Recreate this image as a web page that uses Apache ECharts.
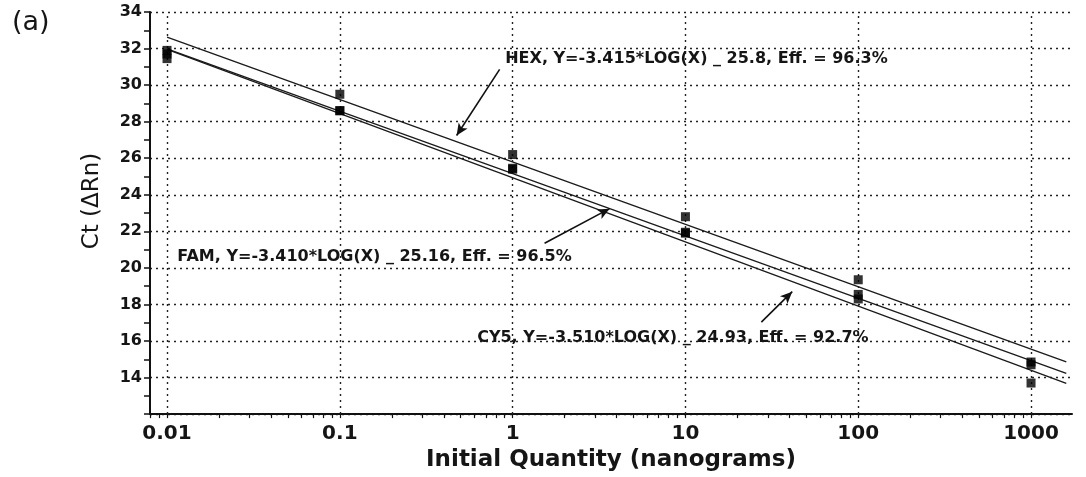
<!DOCTYPE html>
<html>
<head>
<meta charset="utf-8">
<script src="https://cdn.jsdelivr.net/npm/echarts@6/dist/echarts.min.js"></script>
<style>
  html, body { margin: 0; padding: 0; background: #fff; }
  #chart { width: 1086px; height: 477px; }
</style>
</head>
<body>
<div id="chart"></div>
<script>
// Standard curves: Ct versus initial template quantity for three dyes
const dyes = ['HEX', 'FAM', 'CY5'];
const quantities = [0.01, 0.1, 1, 10, 100, 1000];

// Measured Ct replicates per dye, one value per quantity
const hexCt = [31.9, 29.5, 26.2, 22.8, 19.35, 14.85];
const famCt = [31.7, 28.6, 25.45, 21.95, 18.55, 14.7];
const cy5Ct = [31.45, 28.6, 25.4, 21.9, 18.3, 13.7];

// Fitted regression lines as printed in the annotations (slope, intercept)
const fitSlopes = [-3.415, -3.410, -3.510];
const fitIntercepts = [25.8, 25.16, 24.93];
const fitRange = [0.01, 1600];

const annotationTexts = [
  'HEX, Y=-3.415*LOG(X) _ 25.8, Eff. = 96.3%',
  'FAM, Y=-3.410*LOG(X) _ 25.16, Eff. = 96.5%',
  'CY5, Y=-3.510*LOG(X) _ 24.93, Eff. = 92.7%'
];

const xTickLabels = [0.01, 0.1, 1, 10, 100, 1000];
const yTickLabels = [14, 16, 18, 20, 22, 24, 26, 28, 30, 32, 34];

// Annotation placement (data coordinates) for the labels and their arrows
const labelAnchors = [[0.9, 31.41], [0.0114, 20.59], [0.619, 16.16]];
const arrowTails = [[0.841, 30.86], [1.53, 21.35], [27.5, 17.03]];
const arrowHeads = [[0.474, 27.24], [3.64, 23.24], [41.5, 18.7]];

const FONT = 'DejaVu Sans';
const INK = '#151515';
const dotted = { color: '#222', width: 1.4, type: [2, 4] };

// Log-axis tick positions: each decade plus its 2..9 multiples
const minorTickValues = [];
for (let e = -3; e <= 3; e++) {
  for (let m = 1; m <= 9; m++) {
    const v = +(m * Math.pow(10, e)).toPrecision(6);
    if (v >= 0.008 && v <= 1720) minorTickValues.push(v);
  }
}

const ctSets = [hexCt, famCt, cy5Ct];

const pointSeries = dyes.map((dye, i) => ({
  name: dye + ' points',
  type: 'scatter',
  symbol: 'rect',
  symbolSize: 9,
  itemStyle: { color: '#000' },
  z: 5,
  data: quantities.map((q, j) => [q, ctSets[i][j]])
}));

const fitSeries = dyes.map((dye, i) => ({
  name: dye + ' fit',
  type: 'line',
  showSymbol: false,
  symbol: 'none',
  lineStyle: { color: '#1a1a1a', width: 1.3 },
  z: 4,
  data: fitRange.map(x => [x, fitSlopes[i] * Math.log10(x) + fitIntercepts[i]])
}));

// Vertical dotted grid lines at each decade
const decorSeries = {
  name: 'decor',
  type: 'line',
  data: [],
  silent: true,
  markLine: {
    silent: true,
    symbol: 'none',
    label: { show: false },
    lineStyle: dotted,
    data: xTickLabels.map(v => ({ xAxis: v }))
  }
};

// Arrows and equation labels
const arrowSeries = {
  name: 'arrows',
  type: 'line',
  data: [],
  silent: true,
  markLine: {
    silent: true,
    symbol: ['none', 'arrow'],
    symbolSize: [8, 12],
    label: { show: false },
    lineStyle: { color: '#111', width: 1.6, type: 'solid' },
    data: arrowTails.map((t, i) => [{ coord: t }, { coord: arrowHeads[i] }])
  },
  markPoint: {
    silent: true,
    symbol: 'circle',
    symbolSize: 1,
    itemStyle: { color: 'rgba(0,0,0,0)' },
    label: {
      show: true,
      position: 'right',
      distance: 0,
      color: INK,
      fontFamily: FONT,
      fontWeight: 'bold',
      fontSize: 16
    },
    data: labelAnchors.map((c, i) => ({
      coord: c,
      label: { formatter: annotationTexts[i] }
    }))
  }
};

const chart = echarts.init(document.getElementById('chart'), null, { renderer: 'canvas' });
chart.setOption({
  animation: false,
  backgroundColor: '#fff',
  title: {
    text: '(a)',
    left: 7,
    top: 4,
    textStyle: { fontFamily: FONT, fontSize: 27, fontWeight: 'normal', color: INK }
  },
  grid: { left: 150, right: 14, top: 12, bottom: 61 },
  xAxis: {
    type: 'log',
    logBase: 10,
    min: 0.00797,
    max: 1726,
    name: 'Initial Quantity (nanograms)',
    nameLocation: 'middle',
    nameGap: 33,
    nameTextStyle: { fontFamily: FONT, fontSize: 23, fontWeight: 'bold', color: INK },
    axisLine: { show: true, lineStyle: { color: '#111', width: 2 } },
    axisTick: { show: true, length: 4, lineStyle: { color: '#111', width: 1.2 }, customValues: minorTickValues },
    axisLabel: {
      customValues: xTickLabels,
      fontFamily: FONT,
      fontSize: 20,
      fontWeight: 'bold',
      color: INK,
      margin: 10,
      formatter: v => String(+(+v).toPrecision(6))
    },
    splitLine: { show: false },
    minorTick: { show: false }
  },
  yAxis: {
    type: 'value',
    min: 12,
    max: 34,
    interval: 2,
    name: 'Ct (ΔRn)',
    nameLocation: 'middle',
    nameGap: 46,
    nameTextStyle: { fontFamily: FONT, fontSize: 23, color: INK, padding: [0, 0, 0, 24] },
    axisLine: { show: true, lineStyle: { color: '#111', width: 2 } },
    axisTick: { show: true, length: 6, lineStyle: { color: '#111', width: 1.5 } },
    minorTick: { show: true, splitNumber: 2, length: 6, lineStyle: { color: '#111', width: 1.5 } },
    axisLabel: {
      fontFamily: FONT,
      fontSize: 16,
      fontWeight: 'bold',
      color: INK,
      margin: 8,
      formatter: v => (yTickLabels.indexOf(v) >= 0 ? String(v) : '')
    },
    splitLine: { show: true, lineStyle: dotted }
  },
  series: [decorSeries, ...fitSeries, ...pointSeries, arrowSeries]
});
</script>
</body>
</html>
